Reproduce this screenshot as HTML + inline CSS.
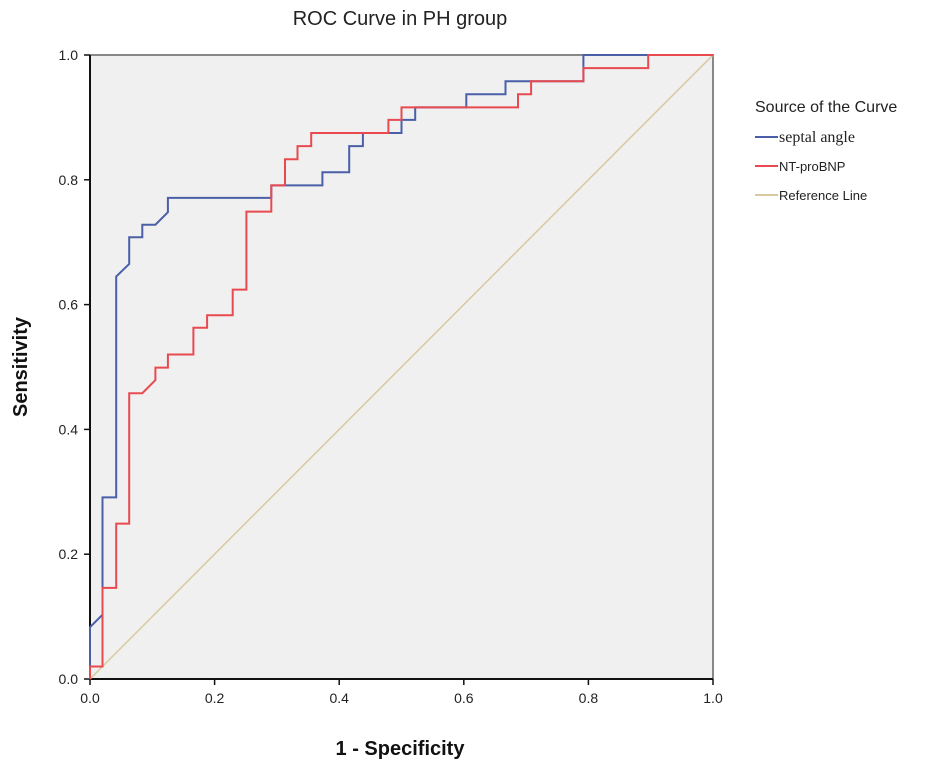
<!DOCTYPE html>
<html><head><meta charset="utf-8"><style>
html,body{margin:0;padding:0;background:#fff;}
svg{display:block;font-family:"Liberation Sans",Arial,sans-serif;}
</style></head><body>
<svg id="chart" width="945" height="772" viewBox="0 0 945 772">
<text x="400" y="25" text-anchor="middle" font-size="20" fill="#222">ROC Curve in PH group</text>
<rect x="90" y="55" width="623" height="624" fill="#f0f0f0"/>
<g id="axes"></g>
<g id="series"></g>
<text x="400" y="755" text-anchor="middle" font-size="20" font-weight="bold" fill="#111">1 - Specificity</text>
<text transform="translate(27,367) rotate(-90)" text-anchor="middle" font-size="20" font-weight="bold" fill="#111">Sensitivity</text>
<g>
<text x="755" y="112" font-size="16" fill="#222">Source of the Curve</text>
<g><line x1="755" y1="137" x2="778" y2="137" stroke="#4a5fa8" stroke-width="2"/><text x="779" y="142" font-size="16" font-family="Liberation Serif,serif" fill="#222">septal angle</text></g>
<g><line x1="755" y1="166" x2="778" y2="166" stroke="#e84a50" stroke-width="2"/><text x="779" y="171" font-size="13" fill="#222">NT-proBNP</text></g>
<g><line x1="755" y1="195" x2="778" y2="195" stroke="#d9c9a0" stroke-width="2"/><text x="779" y="200" font-size="13" fill="#222">Reference Line</text></g>
</g>
</svg>
<script>
const xTicks=[0,0.2,0.4,0.6,0.8,1.0];
const yTicks=[0,0.2,0.4,0.6,0.8,1.0];
const tickLabels=["0.0","0.2","0.4","0.6","0.8","1.0"];
const septalFpr=[0,0,0.02,0.02,0.042,0.042,0.063,0.063,0.084,0.084,0.105,0.125,0.125,0.291,0.291,0.373,0.373,0.416,0.416,0.438,0.438,0.5,0.5,0.522,0.522,0.604,0.604,0.667,0.667,0.792,0.792,1];
const septalTpr=[0,0.083,0.103,0.291,0.291,0.645,0.665,0.708,0.708,0.728,0.728,0.748,0.771,0.771,0.791,0.791,0.812,0.812,0.854,0.854,0.875,0.875,0.896,0.896,0.916,0.916,0.937,0.937,0.958,0.958,1,1];
const bnpFpr=[0,0,0.02,0.02,0.042,0.042,0.063,0.063,0.084,0.105,0.105,0.125,0.125,0.166,0.166,0.188,0.188,0.229,0.229,0.251,0.251,0.291,0.291,0.313,0.313,0.333,0.333,0.355,0.355,0.479,0.479,0.5,0.5,0.687,0.687,0.708,0.708,0.792,0.792,0.896,0.896,1];
const bnpTpr=[0,0.02,0.02,0.146,0.146,0.249,0.249,0.458,0.458,0.479,0.499,0.499,0.52,0.52,0.563,0.563,0.583,0.583,0.624,0.624,0.749,0.749,0.791,0.791,0.833,0.833,0.854,0.854,0.875,0.875,0.896,0.896,0.916,0.916,0.937,0.937,0.958,0.958,0.979,0.979,1,1];
const refX=[0,1], refY=[0,1];
const X=v=>90+v*623, Y=v=>679-v*624;
const NS="http://www.w3.org/2000/svg";
const axes=document.getElementById('axes'), ser=document.getElementById('series');
function mk(tag,attrs,parent){const e=document.createElementNS(NS,tag);for(const k in attrs)e.setAttribute(k,attrs[k]);parent.appendChild(e);return e;}
// frame
let f=mk('path',{d:`M${X(0)},${Y(1)}H${X(1)}V${Y(0)}`,fill:'none',stroke:'#888','stroke-width':2},axes);


let xa=mk('line',{x1:X(0),y1:Y(0),x2:X(1),y2:Y(0),stroke:'#111','stroke-width':2},axes);


let ya=mk('line',{x1:X(0),y1:Y(0),x2:X(0),y2:Y(1),stroke:'#111','stroke-width':2},axes);


xTicks.forEach((t,i)=>{
  let l=mk('line',{x1:X(t),y1:Y(0),x2:X(t),y2:Y(0)+6,stroke:'#111','stroke-width':1.5},axes);
  
  
  let tx=mk('text',{x:X(t),y:Y(0)+24,'text-anchor':'middle','font-size':14,fill:'#222'},axes);
  tx.textContent=tickLabels[i];
  
  
});
yTicks.forEach((t,i)=>{
  let l=mk('line',{x1:X(0)-6,y1:Y(t),x2:X(0),y2:Y(t),stroke:'#111','stroke-width':1.5},axes);
  
  
  let tx=mk('text',{x:X(0)-12,y:Y(t)+5,'text-anchor':'end','font-size':14,fill:'#222'},axes);
  tx.textContent=tickLabels[i];
  
  
});
function line(xs,ys,color,name,w){
  const d=xs.map((v,i)=>(i?'L':'M')+X(v).toFixed(1)+','+Y(ys[i]).toFixed(1)).join('');
  const p=mk('path',{d:d,fill:'none',stroke:color,'stroke-width':w},ser);
  
  
}
line(refX,refY,'#d9c9a0','reference-line',1.5);
line(septalFpr,septalTpr,'#4a5fa8','septal-angle-curve',2);
line(bnpFpr,bnpTpr,'#e84a50','nt-probnp-curve',2);
</script>
</body></html>
